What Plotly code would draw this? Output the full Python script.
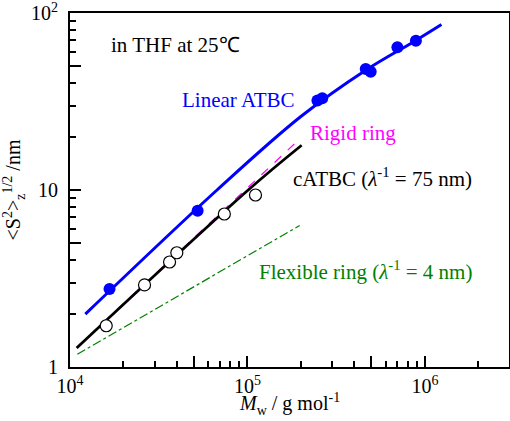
import numpy as np
import plotly.graph_objects as go

# ---- data ----
lin_M = [1.67e4, 5.24e4, 2.48e5, 2.64e5, 4.64e5, 4.95e5, 7.0e5, 8.9e5]
lin_S = [2.76, 7.64, 32.0, 33.0, 48.3, 46.6, 64.0, 69.8]

ring_M = [1.6e4, 2.63e4, 3.64e4, 4.0e4, 7.41e4, 1.11e5]
ring_S = [1.71, 2.91, 3.92, 4.42, 7.32, 9.37]

lin_curve_M = [1.22e4, 6.74e4, 2.0e5, 4.64e5, 8.9e5, 1.24e6]
lin_curve_S = [1.99, 10.0, 26.0, 47.5, 70.0, 86.0]

cat_curve_M = [1.09e4, 1.01e5, 2.02e5]
cat_curve_S = [1.28, 10.0, 17.9]

rigid_M = [1.1e4, 2.0e5]
rigid_S = [1.30, 19.7]

flex_M = [1.1e4, 1.97e5]
flex_S = [1.18, 6.3]

x_major = [1e4, 5e4, 1e5, 5e5, 1e6, 5e6]
x_major_text = ["10<sup>4</sup>", "", "10<sup>5</sup>", "", "10<sup>6</sup>", ""]
y_major = [1, 5, 10, 50, 100]
y_major_text = ["1", "", "10", "", "10<sup>2</sup>"]

x_minor = [m * d for d in (1e4, 1e5, 1e6) for m in (2, 3, 4, 6, 7, 8, 9)]
y_minor = [m * d for d in (1, 10) for m in (2, 3, 4, 6, 7, 8, 9)]

FONT = "Liberation Serif, Times New Roman, Times, serif"
BLUE = "#0000ff"
MAG = "#ff00ff"
GREEN = "#008000"

fig = go.Figure()
fig.add_trace(go.Scatter(x=flex_M, y=flex_S, mode="lines",
                         line=dict(color=GREEN, width=1.2, dash="dashdot")))
fig.add_trace(go.Scatter(x=rigid_M, y=rigid_S, mode="lines",
                         line=dict(color=MAG, width=1.2, dash="dash")))
fig.add_trace(go.Scatter(x=cat_curve_M, y=cat_curve_S, mode="lines",
                         line=dict(color="black", width=2.8, shape="spline")))
fig.add_trace(go.Scatter(x=lin_curve_M, y=lin_curve_S, mode="lines",
                         line=dict(color=BLUE, width=3, shape="spline")))
fig.add_trace(go.Scatter(x=lin_M, y=lin_S, mode="markers",
                         marker=dict(color=BLUE, size=12, line=dict(width=0))))
fig.add_trace(go.Scatter(x=ring_M, y=ring_S, mode="markers",
                         marker=dict(color="white", size=12,
                                     line=dict(color="black", width=1.2))))

ann = [
    ("in THF at 25℃", 4.22, 1.819, "black"),
    ("Linear ATBC", 4.621, 1.508, BLUE),
    ("Rigid ring", 5.339, 1.322, MAG),
    ("cATBC (<i>λ</i><sup>-1</sup> = 75 nm)", 5.243, 1.068, "black"),
    ("Flexible ring (<i>λ</i><sup>-1</sup> = 4 nm)", 5.056, 0.548, GREEN),
]
for t, x, y, c in ann:
    fig.add_annotation(text=t, x=x, y=y, xref="x", yref="y", xanchor="left",
                       yanchor="middle", showarrow=False,
                       font=dict(family=FONT, size=21, color=c))

# x-axis title placed as paper annotation (close under the tick labels)
fig.add_annotation(text="<i>M</i><sub>w</sub> / g mol<sup>-1</sup>",
                   x=0.5, y=-0.104, xref="paper", yref="paper",
                   xanchor="center", yanchor="middle", showarrow=False,
                   font=dict(family=FONT, size=20, color="black"))

axis_common = dict(type="log", showgrid=False, zeroline=False, showline=True,
                   linecolor="black", linewidth=2, mirror=True, automargin=False,
                   ticks="inside", ticklen=11, tickwidth=1.5, tickcolor="black",
                   ticklabeloverflow="allow",
                   tickfont=dict(family=FONT, size=20, color="black"))

fig.update_layout(
    width=510, height=421,
    margin=dict(l=70, r=1, t=13, b=54),
    paper_bgcolor="white", plot_bgcolor="white",
    showlegend=False,
    font=dict(family=FONT),
    xaxis=dict(**axis_common, range=[4, 6.474], tickmode="array",
               tickvals=x_major, ticktext=x_major_text,
               minor=dict(tickmode="array", tickvals=x_minor, ticks="inside",
                          ticklen=6, tickwidth=1.5, tickcolor="black")),
    yaxis=dict(**axis_common, range=[0, 2], tickmode="array",
               tickvals=y_major, ticktext=y_major_text,
               ticklabelstandoff=6,
               minor=dict(tickmode="array", tickvals=y_minor, ticks="inside",
                          ticklen=6, tickwidth=1.5, tickcolor="black"),
               title=dict(text="&lt;S<sup>2</sup>&gt;<sub>z</sub><sup>1/2</sup> /nm",
                          font=dict(family=FONT, size=20, color="black"),
                          standoff=6)),
)

fig.write_html("out.html", config={"displayModeBar": False},
               post_script="document.body.style.margin='0';document.body.style.overflow='hidden';")
